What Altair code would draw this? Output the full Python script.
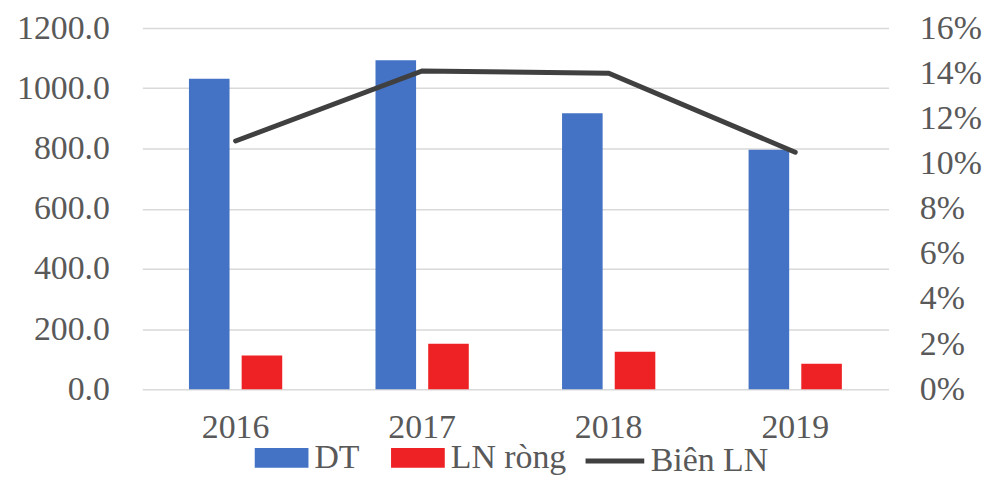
import altair as alt
import pandas as pd

years = ["2016", "2017", "2018", "2019"]
dt = [1032, 1093, 917, 796]
ln_rong = [112, 151, 125, 85]
bien_ln = [0.110, 0.141, 0.140, 0.105]
series_names = ["DT", "LN ròng"]
line_name = "Biên LN"

bars_df = pd.DataFrame(
    [{"year": y, "series": "DT", "value": v} for y, v in zip(years, dt)]
    + [{"year": y, "series": "LN ròng", "value": v} for y, v in zip(years, ln_rong)]
)
line_df = pd.DataFrame({"year": years, "margin": bien_ln, "name": [line_name] * len(years)})

FONT = "Liberation Serif"
TXT = "#595959"
FS = 34

x_axis = alt.Axis(title=None, labelAngle=0, domain=False, ticks=False, grid=False, labelPadding=21,
                  labelFontSize=FS, labelFont=FONT, labelColor=TXT)

bars = alt.Chart(bars_df).mark_bar().encode(
    x=alt.X("year:N", scale=alt.Scale(domain=years, paddingInner=0.5, paddingOuter=0.25), axis=x_axis),
    xOffset=alt.XOffset("series:N", scale=alt.Scale(domain=series_names, paddingInner=0.23, paddingOuter=0)),
    y=alt.Y(
        "value:Q",
        scale=alt.Scale(domain=[0, 1200], nice=False),
        axis=alt.Axis(title=None, values=[0, 200, 400, 600, 800, 1000, 1200], format=".1f",
                      grid=True, gridColor="#D9D9D9", gridWidth=1.5, domain=False,
                      domainColor="transparent", ticks=False,
                      labelPadding=33, labelFontSize=FS, labelFont=FONT, labelColor=TXT),
    ),
    color=alt.Color(
        "series:N",
        scale=alt.Scale(domain=series_names, range=["#4472C4", "#EE2224"]),
        legend=alt.Legend(orient="none", legendX=113, legendY=405, direction="horizontal",
                          title=None, symbolType="M-1,-0.37H1V0.37H-1Z", symbolSize=2916,
                          symbolStrokeWidth=0, labelFontSize=FS, labelFont=FONT, labelColor=TXT,
                          labelOffset=6, columnPadding=31, padding=0),
    ),
)

line = alt.Chart(line_df).mark_line(strokeWidth=5, strokeCap="round").encode(
    x=alt.X("year:N", bandPosition=0.5, axis=x_axis),
    y=alt.Y(
        "margin:Q",
        scale=alt.Scale(domain=[0, 0.16], nice=False),
        axis=alt.Axis(orient="right", title=None,
                      values=[0, 0.02, 0.04, 0.06, 0.08, 0.10, 0.12, 0.14, 0.16], format=".0%",
                      grid=False, domain=False, domainColor="transparent", ticks=False, labelPadding=31,
                      labelFontSize=FS, labelFont=FONT, labelColor=TXT),
    ),
    stroke=alt.Stroke(
        "name:N",
        scale=alt.Scale(domain=[line_name], range=["#404040"]),
        legend=alt.Legend(orient="none", legendX=443, legendY=403, title=None,
                          symbolType="stroke", symbolSize=3481, symbolStrokeWidth=5,
                          labelFontSize=FS, labelFont=FONT, labelColor=TXT,
                          labelOffset=4, padding=0),
    ),
)

chart = (
    alt.layer(bars, line)
    .resolve_scale(y="independent")
    .properties(width=750, height=363, autosize=alt.AutoSizeParams(type="none"),
                padding={"left": 135, "top": 19, "right": 100, "bottom": 88})
    .configure(font=FONT, style={"cell": {"stroke": "transparent"}})
    .configure_view(stroke="transparent")
    .configure_axis(domain=False, domainColor="transparent")
)

chart.save("out.html", embed_options={"renderer": "svg", "actions": False})
